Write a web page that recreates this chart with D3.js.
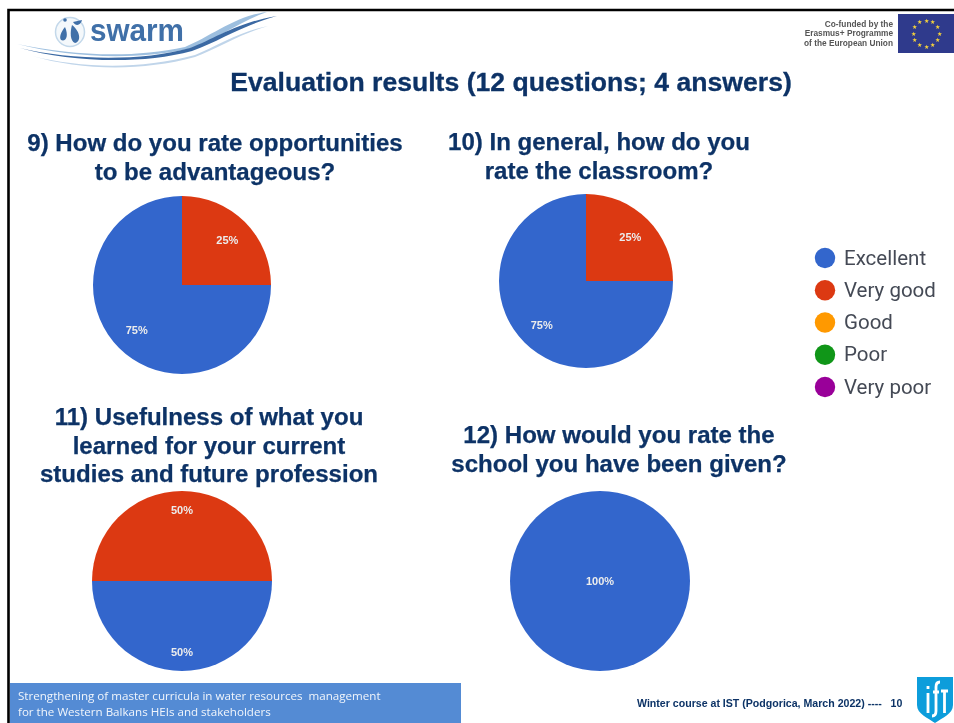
<!DOCTYPE html>
<html>
<head>
<meta charset="utf-8">
<style>
  html, body { margin: 0; padding: 0; background: #fff; }
  svg { display: block; }
  text { font-family: "Liberation Sans", Arial, sans-serif; }
</style>
</head>
<body>
<svg id="chart" width="954" height="723"></svg>
<script src="https://cdn.jsdelivr.net/npm/d3@7"></script>
<script>
// answers and colours of the legend
const answers = ['Excellent', 'Very good', 'Good', 'Poor', 'Very poor'];
const answerColors = ['#3366cc', '#dc3912', '#ff9900', '#109618', '#990099'];

// share of each answer per question, same order as answers
const q9Values = [75, 25, 0, 0, 0];
const q10Values = [75, 25, 0, 0, 0];
const q11Values = [50, 50, 0, 0, 0];
const q12Values = [100, 0, 0, 0, 0];

const q9Title = ['9) How do you rate opportunities', 'to be advantageous?'];
const q10Title = ['10) In general, how do you', 'rate the classroom?'];
const q11Title = ['11) Usefulness of what you', 'learned for your current', 'studies and future profession'];
const q12Title = ['12) How would you rate the', 'school you have been given?'];

const navy = '#0b3366';
const svg = d3.select('#chart');

// the reference is a slightly soft scan of a slide
const defs = svg.append('defs');
defs.append('filter').attr('id', 'soft')
  .append('feGaussianBlur').attr('stdDeviation', 0.35);
defs.append('filter').attr('id', 'softer')
  .attr('x', '-5%').attr('y', '-5%').attr('width', '110%').attr('height', '110%')
  .append('feGaussianBlur').attr('stdDeviation', 0.7);

// slide frame
svg.append('path')
  .attr('d', 'M8.5,723V10H954')
  .attr('fill', 'none')
  .attr('stroke', '#000')
  .attr('stroke-width', 2.6);

// swarm logo, drawn by hand
const logo = svg.append('g').attr('filter', 'url(#softer)');
const waves = [
  ['M17,44C70,55 130,59 185,47C210,37 235,16 267,12C240,21 215,41 188,49C130,61 70,57 17,44Z', '#9dbfdf'],
  ['M32,56C80,68 140,70 195,55C215,47 240,31 268,26C240,34 215,50 195,57C140,72 80,70 32,56Z', '#c0d5ea'],
  ['M20,48C70,60 140,62 190,48C215,39 235,23 277,16C240,26 220,41 192,51C140,65 70,62 20,48Z', '#3b69a3']
];
logo.selectAll('path.wave').data(waves).enter().append('path')
  .attr('class', 'wave')
  .attr('d', d => d[0])
  .attr('fill', d => d[1]);
logo.append('circle')
  .attr('cx', 70).attr('cy', 32).attr('r', 14.5)
  .attr('fill', '#f4f8fb').attr('stroke', '#c3d8ea').attr('stroke-width', 1.5);
logo.append('path')
  .attr('d', 'M65,27C61,32 59,37 61,40C66,42 69,36 65,27Z M72,25C70,32 70,41 75,43C81,42 81,32 72,25Z M73,22L82,20C81,25 76,27 73,22Z')
  .attr('fill', '#3f6fa8');
logo.append('circle').attr('cx', 65).attr('cy', 20).attr('r', 1.8).attr('fill', '#3f6fa8');
logo.append('text')
  .attr('x', 90).attr('y', 41)
  .attr('font-size', 31).attr('font-weight', 700)
  .attr('textLength', 94)
  .attr('lengthAdjust', 'spacingAndGlyphs')
  .attr('fill', '#3f6fa8')
  .text('swarm');

// co-funded note and flag
const cofunded = ['Co-funded by the', 'Erasmus+ Programme', 'of the European Union'];
svg.append('g').attr('filter', 'url(#soft)').selectAll('text').data(cofunded).enter().append('text')
  .attr('x', 893)
  .attr('y', (d, i) => 26.5 + i * 9.6)
  .attr('text-anchor', 'end')
  .attr('font-size', 8.3)
  .attr('font-weight', 700)
  .attr('fill', '#555')
  .text(d => d);
svg.append('rect')
  .attr('x', 898).attr('y', 14).attr('width', 56).attr('height', 39)
  .attr('fill', '#2f3a8c');
svg.append('g').attr('filter', 'url(#soft)').selectAll('text').data(d3.range(12)).enter().append('text')
  .attr('x', i => 926 + 13 * Math.sin(i * Math.PI / 6))
  .attr('y', i => 35.5 - 13 * Math.cos(i * Math.PI / 6))
  .attr('text-anchor', 'middle')
  .attr('font-size', 5.5)
  .attr('fill', '#f6d23a')
  .text('★');

// slide title
svg.append('text')
  .attr('x', 511).attr('y', 91)
  .attr('text-anchor', 'middle')
  .attr('font-size', 26.6)
  .attr('font-weight', 700)
  .attr('fill', navy)
  .attr('stroke', navy)
  .attr('stroke-width', 0.3)
  .attr('filter', 'url(#soft)')
  .text('Evaluation results (12 questions; 4 answers)');

const pie = d3.pie().sort(null).startAngle(Math.PI / 2).endAngle(Math.PI * 2.5);

function drawQuestion(values, title, titleX, titleY, cx, cy, r, labelRatio) {
  svg.append('g').attr('filter', 'url(#soft)').selectAll('text').data(title).enter().append('text')
    .attr('x', titleX)
    .attr('y', (d, i) => titleY + i * 28.5)
    .attr('text-anchor', 'middle')
    .attr('font-size', 24.05)
    .attr('font-weight', 700)
    .attr('fill', navy)
    .attr('stroke', navy)
    .attr('stroke-width', 0.25)
    .text(d => d);

  const arc = d3.arc().innerRadius(0).outerRadius(r);
  const labelArc = d3.arc().innerRadius(r * labelRatio).outerRadius(r * labelRatio);
  const g = svg.append('g').attr('transform', `translate(${cx},${cy})`);
  const slices = pie(values).filter(d => d.value > 0);

  g.selectAll('path').data(slices).enter().append('path')
    .attr('d', arc)
    .attr('fill', d => answerColors[d.index]);

  g.selectAll('text').data(slices).enter().append('text')
    .attr('transform', d => slices.length === 1 ? null : `translate(${labelArc.centroid(d)})`)
    .attr('text-anchor', 'middle')
    .attr('dy', '0.35em')
    .attr('font-size', 11)
    .attr('font-weight', 700)
    .attr('fill', '#ececec')
    .attr('filter', 'url(#soft)')
    .text(d => d.value + '%');
}

drawQuestion(q9Values, q9Title, 215, 151, 182, 285, 89, 0.72);
drawQuestion(q10Values, q10Title, 599, 150, 586, 281, 87, 0.72);
drawQuestion(q11Values, q11Title, 209, 425, 182, 581, 90, 0.79);
drawQuestion(q12Values, q12Title, 619, 443, 600, 581, 90, 0);

// legend
const legendY = d3.scalePoint().domain(answers).range([258, 387]);
const legend = svg.append('g').selectAll('g').data(answers).enter().append('g')
  .attr('transform', d => `translate(825,${legendY(d)})`);
legend.append('circle')
  .attr('r', 10.2)
  .attr('fill', (d, i) => answerColors[i]);
legend.append('text')
  .attr('x', 19)
  .attr('y', -0.5)
  .attr('dy', '0.35em')
  .style('font-family', 'Roboto, sans-serif')
  .attr('font-size', 20.5)
  .attr('fill', '#444a55')
  .attr('filter', 'url(#soft)')
  .text(d => d);

// footer band
svg.append('rect')
  .attr('x', 10).attr('y', 683).attr('width', 451).attr('height', 40)
  .attr('fill', '#548bd4');
const footerLines = ['Strengthening of master curricula in water resources  management', 'for the Western Balkans HEIs and stakeholders'];
svg.append('g').attr('filter', 'url(#soft)').selectAll('text').data(footerLines).enter().append('text')
  .attr('x', 18)
  .attr('y', (d, i) => 700 + i * 16)
  .attr('font-size', 11.6)
  .style('font-family', '"Open Sans", sans-serif')
  .attr('fill', '#f0f5fc')
  .style('white-space', 'pre')
  .text(d => d);

svg.append('text')
  .attr('x', 637).attr('y', 707)
  .attr('font-size', 10.6)
  .attr('font-weight', 700)
  .attr('fill', navy)
  .attr('filter', 'url(#soft)')
  .style('white-space', 'pre')
  .text('Winter course at IST (Podgorica, March 2022) ----   10');

// IST shield
svg.append('path')
  .attr('d', 'M917,677H953V705C953,714 942,718 935,723C928,718 917,714 917,705Z')
  .attr('fill', '#0d9ddb');
svg.append('path')
  .attr('d', 'M928,693V713 M928,686V689 M932,716C935,716 936,714 936,711V687C936,683 937.5,682 940,682 M933,692H939 M944.5,691V713 M941,691H948')
  .attr('fill', 'none')
  .attr('stroke', '#fff')
  .attr('stroke-width', 2.8)
  .attr('filter', 'url(#soft)');
</script>
</body>
</html>
